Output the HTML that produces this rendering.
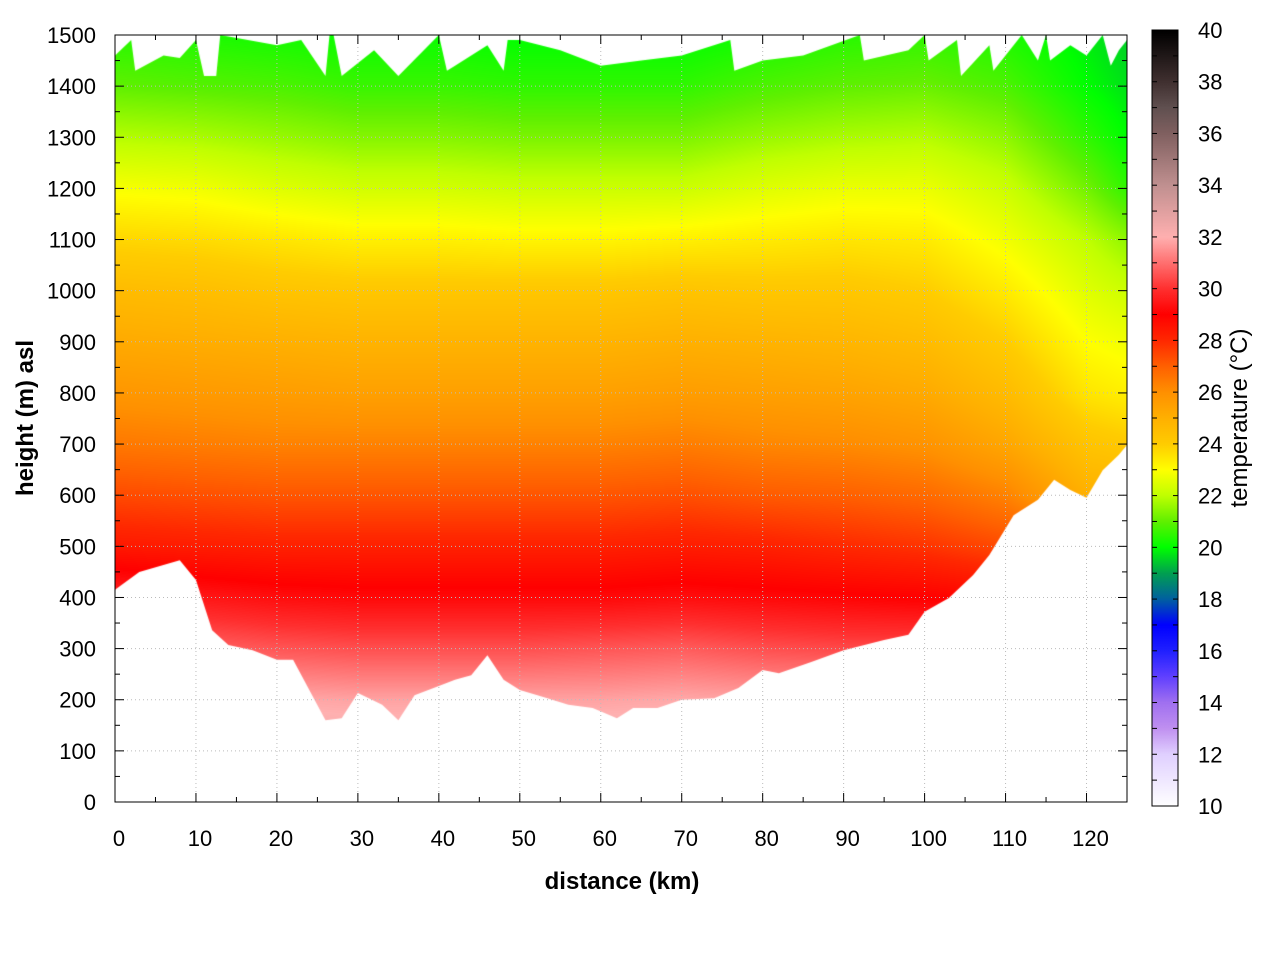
<!DOCTYPE html>
<html><head><meta charset="utf-8"><style>
body{margin:0;background:#fff;width:1280px;height:960px;overflow:hidden;position:relative;font-family:"Liberation Sans",sans-serif}
#heat{position:absolute;left:0;top:0}
#ov{position:absolute;left:0;top:0}
</style></head><body>
<canvas id="heat" width="1280" height="960"></canvas>
<svg id="ov" width="1280" height="960"></svg>
<script>
const distances=[0,10,20,30,40,50,60,70,80,90,100,110,120,125];
const heights=[0,100,200,300,400,500,600,700,800,900,1000,1100,1200,1300,1400,1500];
const tempCols=[
[33,32.5,32,31,29.8,28.4,27.4,26.5,25.8,25.2,24.6,23.8,22.9,21.9,21,20.4],
[33,32.5,32,30.8,29.5,28.3,27.3,26.4,25.7,25.1,24.5,23.7,22.8,21.8,20.9,20.3],
[33,32.5,31.9,30.6,29.3,28.2,27.2,26.3,25.6,25,24.3,23.5,22.5,21.6,20.8,20.2],
[33,32.5,31.8,30.5,29.2,28.2,27.2,26.3,25.5,24.9,24.2,23.3,22.3,21.4,20.6,20.1],
[33,32.5,31.8,30.5,29.2,28.2,27.2,26.3,25.5,24.9,24.2,23.3,22.3,21.4,20.6,20.1],
[33,32.5,31.8,30.5,29.2,28.2,27.2,26.3,25.5,24.9,24.2,23.2,22.2,21.3,20.5,20],
[33,32.5,31.8,30.6,29.2,28.2,27.2,26.3,25.5,24.9,24.2,23.2,22.2,21.3,20.5,20],
[33,32.5,31.9,30.7,29.3,28.3,27.3,26.4,25.6,25,24.3,23.3,22.2,21.3,20.5,20],
[33,32.5,31.8,30.5,29.2,28.2,27.1,26.2,25.5,24.9,24.2,23.4,22.5,21.6,20.8,20.2],
[33,32.5,31.8,30.4,29.1,28,27,26.1,25.4,24.8,24.2,23.5,22.7,21.8,21,20.4],
[33,32.5,31.8,30.4,29,27.8,26.8,25.9,25.2,24.6,24,23.4,22.7,21.9,21.1,20.5],
[33,32.5,31.8,30.3,28.8,27.4,26.3,25.3,24.6,24,23.4,22.8,22.2,21.5,20.8,20.3],
[33,32.5,31.8,30.2,28.6,27,25,24.3,23.5,23,22.5,22,21.2,20.5,20,19.8],
[33,32.5,31.8,30.2,28.6,27,25,24.1,23.3,22.8,22.2,21.5,20.5,20,19.7,19.5]];
const groundKm=[0,3,8,10,12,14,17,20,22,24,26,28,30,33,35,37,40,42,44,46,48,50,53,56,59,62,64,67,70,74,77,80,82,86,90,95,98,100,103,106,108,111,114,116,118,120,122,124,125];
const groundM=[415,450,473,434,336,307,297,278,278,219,160,164,213,190,160,209,227,239,248,287,239,219,205,190,184,164,184,184,200,203,223,258,252,274,297,317,327,372,399,444,483,561,591,630,610,595,649,679,698];
const topKm=[0,2,2.5,6,8,10,11,12.5,13,20,23,26,26.5,27,28,32,35,40,41,42,46,48,48.5,50,55,60,65,70,76,76.5,80,85,92,92.5,98,100,100.5,104,104.5,108,108.5,112,114,115,115.5,118,120,122,123,124,125];
const topM=[1460,1490,1430,1460,1455,1490,1420,1420,1500,1480,1490,1420,1500,1500,1420,1470,1420,1500,1430,1440,1480,1430,1490,1490,1470,1440,1450,1460,1490,1430,1450,1460,1500,1450,1470,1500,1450,1490,1420,1480,1430,1500,1450,1500,1450,1480,1460,1500,1440,1470,1490];
const cmapT=[10,12,13,14,15,16,17,18,19,20,21,22,23,24,25,26,27,28,29,30,31,32,33,34,35,36,37,38,39,40];
const cmapC=["#ffffff","#e0d0ff","#c090f0","#a070f0","#6040ff","#2020ff","#0000ff","#0060a0","#00a050","#00ff00","#60f000","#c0ff00","#ffff00","#ffcc00","#ffb000","#ff9000","#ff6000","#ff2800","#ff0000","#ff3030","#ff7070","#ffb0b0","#e0a0a0","#c09090","#a07878","#806060","#605050","#403030","#201818","#000000"];
const X0=115,X1=1127,Y0=802,Y1=35,C0=806,C1=30;
const xs=d=>X0+(d/125)*(X1-X0), ys=h=>Y0-(h/1500)*(Y0-Y1), cy=t=>C0-(t-10)/30*(C0-C1);
function hex(c){return [1,3,5].map(i=>parseInt(c.substr(i,2),16));}
const cm=cmapC.map(hex);
function color(t){t=Math.max(10,Math.min(40,t));let i=0;while(i<cmapT.length-2&&t>cmapT[i+1])i++;const f=(t-cmapT[i])/(cmapT[i+1]-cmapT[i]);return cm[i].map((v,k)=>Math.round(v+(cm[i+1][k]-v)*f));}
function interp(arr,x){if(x<=arr[0])return [0,0];let i=0;while(i<arr.length-2&&x>arr[i+1])i++;return [i,Math.min(1,(x-arr[i])/(arr[i+1]-arr[i]))];}
function temp(d,h){const [i,fx]=interp(distances,Math.min(d,125));const [j,fy]=interp(heights,Math.min(h,1500));
 const a=tempCols[i][j],b=tempCols[i+1][j],c=tempCols[i][j+1],e=tempCols[i+1][j+1];
 return (a*(1-fx)+b*fx)*(1-fy)+(c*(1-fx)+e*fx)*fy;}
const cv=document.getElementById('heat'),ctx=cv.getContext('2d');
const off=document.createElement('canvas');off.width=1280;off.height=960;const oc=off.getContext('2d');
const W=X1-X0,H=Y0-Y1,img=oc.createImageData(W,H);
for(let py=0;py<H;py++){const h=(Y0-(Y1+py))/(Y0-Y1)*1500;for(let px=0;px<W;px++){const d=px/W*125;const c=color(temp(d,h));const k=(py*W+px)*4;img.data[k]=c[0];img.data[k+1]=c[1];img.data[k+2]=c[2];img.data[k+3]=255;}}
oc.putImageData(img,X0,Y1);
ctx.save();ctx.beginPath();
groundKm.forEach((d,i)=>{i?ctx.lineTo(xs(d),ys(groundM[i])):ctx.moveTo(xs(d),ys(groundM[i]));});
for(let i=topKm.length-1;i>=0;i--)ctx.lineTo(xs(topKm[i]),ys(topM[i]));
ctx.closePath();ctx.clip();ctx.drawImage(off,0,0);ctx.restore();
const cbg=ctx.createLinearGradient(0,C0,0,C1);
cmapT.forEach((t,i)=>cbg.addColorStop((t-10)/30,cmapC[i]));
ctx.fillStyle=cbg;ctx.fillRect(1152,C1,26,C0-C1);
const svg=document.getElementById('ov'),NS='http://www.w3.org/2000/svg';
function el(tag,at,txt){const e=document.createElementNS(NS,tag);for(const k in at)e.setAttribute(k,at[k]);if(txt!==undefined)e.textContent=txt;svg.appendChild(e);return e;}
const xTicks=[0,10,20,30,40,50,60,70,80,90,100,110,120];
const yTicks=[0,100,200,300,400,500,600,700,800,900,1000,1100,1200,1300,1400,1500];
const cTicks=[10,12,14,16,18,20,22,24,26,28,30,32,34,36,38,40];
xTicks.forEach(v=>{const x=xs(v);
 if(v>0){const g=el('line',{x1:x,x2:x,y1:Y1,y2:Y0,stroke:'#bbb','stroke-width':1,'stroke-dasharray':'1,3'});}
 el('line',{x1:x,x2:x,y1:Y0,y2:Y0-9,stroke:'#000'});el('line',{x1:x,x2:x,y1:Y1,y2:Y1+9,stroke:'#000'});
 el('line',{x1:xs(v+5),x2:xs(v+5),y1:Y0,y2:Y0-5,stroke:'#000'});el('line',{x1:xs(v+5),x2:xs(v+5),y1:Y1,y2:Y1+5,stroke:'#000'});
 const t=el('text',{x:x+4,y:846,'font-size':22,'text-anchor':'middle'},v);});
yTicks.forEach(v=>{const y=ys(v);
 if(v>0&&v<1500){const g=el('line',{x1:X0,x2:X1,y1:y,y2:y,stroke:'#bbb','stroke-width':1,'stroke-dasharray':'1,3'});}
 el('line',{x1:X0,x2:X0+9,y1:y,y2:y,stroke:'#000'});el('line',{x1:X1,x2:X1-9,y1:y,y2:y,stroke:'#000'});
 if(v<1500){el('line',{x1:X0,x2:X0+5,y1:ys(v+50),y2:ys(v+50),stroke:'#000'});el('line',{x1:X1,x2:X1-5,y1:ys(v+50),y2:ys(v+50),stroke:'#000'});}
 const t=el('text',{x:96,y:y+8,'font-size':22,'text-anchor':'end'},v);});
const fr=el('rect',{x:X0,y:Y1,width:X1-X0,height:Y0-Y1,fill:'none',stroke:'#000'});

const cf=el('rect',{x:1152,y:C1,width:26,height:C0-C1,fill:'none',stroke:'#000'});

for(let t=11;t<40;t++){el('line',{x1:1152,x2:1157,y1:cy(t),y2:cy(t),stroke:'#000'});el('line',{x1:1178,x2:1173,y1:cy(t),y2:cy(t),stroke:'#000'});}
cTicks.forEach(v=>{const t=el('text',{x:1198,y:cy(v)+8,'font-size':22},v);});
const xt=el('text',{x:622,y:889,'font-size':24,'font-weight':'bold','text-anchor':'middle'},'distance (km)');

const yt=el('text',{x:0,y:0,'font-size':24,'font-weight':'bold','text-anchor':'middle',transform:'translate(33,418) rotate(-90)'},'height (m) asl');

const ct=el('text',{x:0,y:0,'font-size':24,'text-anchor':'middle',transform:'translate(1247,418) rotate(-90)'},'temperature (°C)');

</script>
</body></html>
